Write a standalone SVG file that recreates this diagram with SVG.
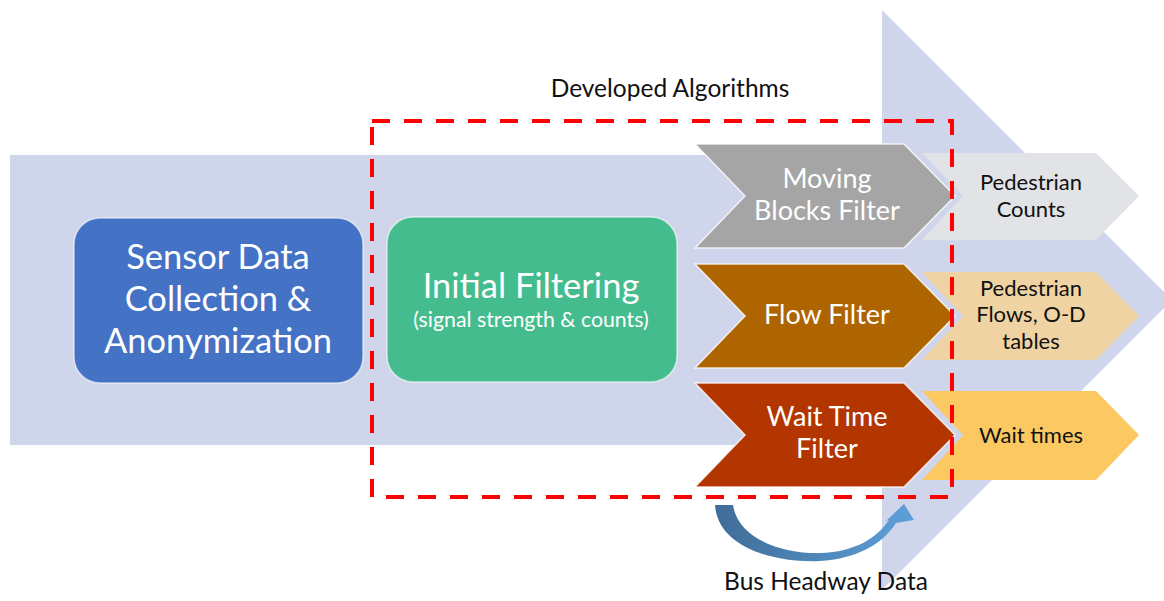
<svg xmlns="http://www.w3.org/2000/svg" width="1164" height="601" viewBox="0 0 1164 601">
<defs>
<linearGradient id="bg" x1="0" y1="0" x2="1" y2="0">
<stop offset="0" stop-color="#3F6C97"/>
<stop offset="1" stop-color="#5FA0DA"/>
</linearGradient>
</defs>
<style>
text{font-family:Lato,"Open Sans","Liberation Sans",sans-serif;text-anchor:middle}
.w{fill:#FFFFFF}
.k{fill:#111111}
.chev{stroke:#FFFFFF;stroke-width:1.5;stroke-opacity:0.8}
.box{stroke:#FFFFFF;stroke-width:1.5;stroke-opacity:0.6}
</style>
<rect width="1164" height="601" fill="#FFFFFF"/>
<g id="background-arrow">
<polygon points="10,155 882,155 882,10 1172,300 882,590 882,445 10,445" fill="#CFD5EA"/>
</g>
<g id="sensor">
<rect class="box" x="74" y="218" width="289" height="165" rx="26" fill="#4472C4"/>
<text class="w" x="218" y="269" font-size="34.5">Sensor Data</text>
<text class="w" x="218" y="311" font-size="34.5">Collection &amp;</text>
<text class="w" x="218" y="353" font-size="34.5">Anonymization</text>
</g>
<g id="initial">
<rect class="box" x="387" y="217" width="290" height="165" rx="26" fill="#45BC8D"/>
<text class="w" x="531" y="298" font-size="34.5">Initial Filtering</text>
<text class="w" x="531" y="327" font-size="21.3">(signal strength &amp; counts)</text>
</g>
<g id="out-counts">
<polygon points="922,153 1096,153 1139,196 1096,240 922,240 963,196" fill="#E2E3E6"/>
<text class="k" x="1031" y="190" font-size="22">Pedestrian</text>
<text class="k" x="1031" y="217" font-size="22">Counts</text>
</g>
<g id="out-flows">
<polygon points="922,272 1096,272 1139,316 1096,360 922,360 963,316" fill="#EFD3A2"/>
<text class="k" x="1031" y="296" font-size="22">Pedestrian</text>
<text class="k" x="1031" y="322" font-size="22">Flows, O-D</text>
<text class="k" x="1031" y="349" font-size="22">tables</text>
</g>
<g id="out-wait">
<polygon points="922,391 1096,391 1139,435 1096,480 922,480 963,435" fill="#FBC862"/>
<text class="k" x="1031" y="443" font-size="22">Wait times</text>
</g>
<g id="moving-blocks">
<polygon class="chev" points="695,144 904,144 955,196 904,248 695,248 745,196" fill="#A5A5A5"/>
<text class="w" x="827" y="188" font-size="27">Moving</text>
<text class="w" x="827" y="220" font-size="27">Blocks Filter</text>
</g>
<g id="flow-filter">
<polygon class="chev" points="695,264 904,264 955,316 904,368 695,368 745,316" fill="#AE6500"/>
<text class="w" x="827" y="324" font-size="27">Flow Filter</text>
</g>
<g id="wait-filter">
<polygon class="chev" points="695,383 904,383 955,435 904,487 695,487 745,435" fill="#B33600"/>
<text class="w" x="827" y="426" font-size="27">Wait Time</text>
<text class="w" x="827" y="458" font-size="27">Filter</text>
</g>
<g id="developed-algorithms">
<rect x="372" y="121" width="580" height="376" fill="none" stroke="#FF0000" stroke-width="4" stroke-dasharray="18,14"/>
<text class="k" x="670" y="97" font-size="24.5">Developed Algorithms</text>
</g>
<g id="connectors">
<path d="M715,505 C718,548 775,563 820,561 C855,559 882,545 896,523 L914,520 L904,504 L886,521 L889,520 C877,538 855,552 820,553 C785,554 738,540 733,505 Z" fill="url(#bg)"/>
</g>
<g id="bus-headway">
<text class="k" x="826" y="590" font-size="24.5">Bus Headway Data</text>
</g>
</svg>
